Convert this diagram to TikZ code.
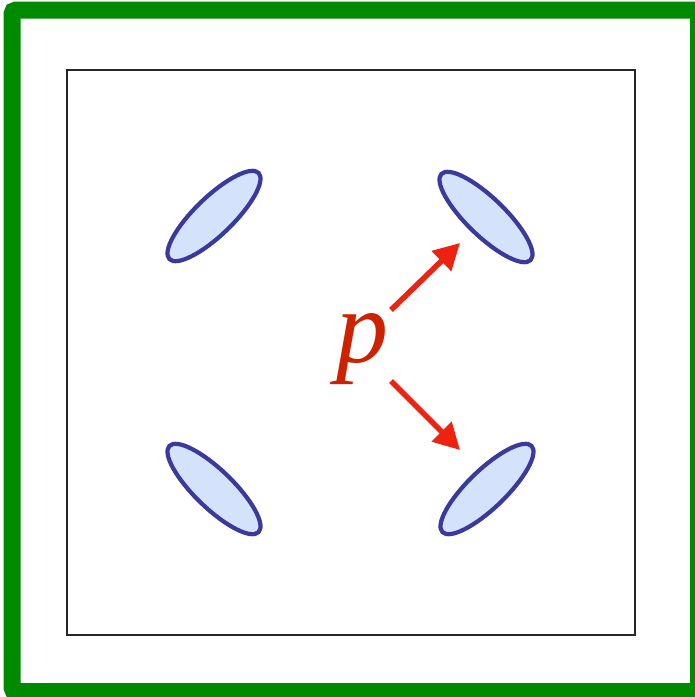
\documentclass[tikz,border=0pt]{standalone}
\usepackage{fontspec}
\setmainfont{Liberation Serif}
\usetikzlibrary{shapes.geometric,arrows.meta}
\definecolor{frameg}{HTML}{008A00}
\definecolor{blobline}{HTML}{3A3A9C}
\definecolor{blobfill}{HTML}{D4E2FB}
\definecolor{arrred}{HTML}{EE2211}
\definecolor{pred}{HTML}{CC2200}
\tikzset{
  blob/.style={ellipse, draw=blobline, fill=blobfill, line width=4.2pt,
    minimum width=124pt, minimum height=38pt, inner sep=0pt},
  parrow/.style={draw=arrred, line width=5.5pt,
    -{Triangle[length=26pt,width=27pt]}},
}
\begin{document}
\begin{tikzpicture}[x=1pt,y=-1pt]
\useasboundingbox (0,0) rectangle (695,697);
\fill[white] (0,0) rectangle (695,697);
\begin{scope}
\clip (0,0) rectangle (695,697);
\draw[frameg, line width=17pt, rounded corners=4pt] (12,10) rectangle (698.5,691.5);
\end{scope}
\node[draw=black!85, line width=1.3pt, minimum width=568pt, minimum height=565pt, inner sep=0pt] (box) at (351,352.5) {};
\node[blob, rotate=44] (tl) at (214,216) {};
\node[blob, rotate=-44] (tr) at (486,217) {};
\node[blob, rotate=-44] (bl) at (214,489) {};
\node[blob, rotate=44] (br) at (487,489) {};
\node[text=pred, font=\fontsize{104}{104}\selectfont\itshape, inner sep=0pt] (p) at (362,349) {p};
\coordinate (s1) at (391,310);
\coordinate (e1) at (460,243);
\coordinate (s2) at (391,381);
\coordinate (e2) at (460,450);
\draw[parrow] (s1) -- (e1);
\draw[parrow] (s2) -- (e2);
\end{tikzpicture}
\end{document}
